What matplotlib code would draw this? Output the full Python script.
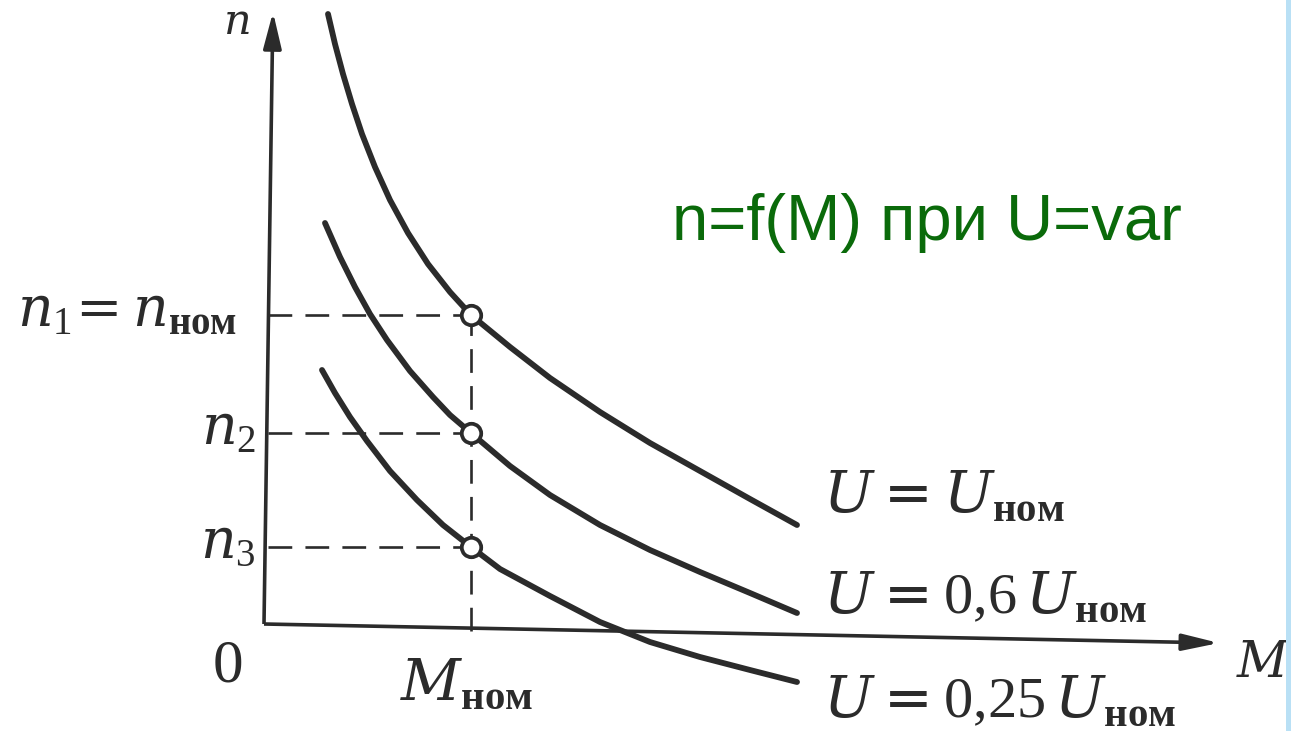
import matplotlib.pyplot as plt
from matplotlib.patches import Rectangle

# fonts: serif italic like the textbook figure
plt.rcParams['mathtext.fontset'] = 'custom'
plt.rcParams['mathtext.rm'] = 'DejaVu Serif'
plt.rcParams['mathtext.it'] = 'DejaVu Serif:italic'
plt.rcParams['mathtext.bf'] = 'Liberation Serif:bold'
plt.rcParams['mathtext.sf'] = 'Liberation Serif'   # used for the digits

# speed curves n=f(M) (arbitrary units)
m_u100 = [0.64, 0.71, 0.79, 0.88, 0.98, 1.11, 1.26, 1.44, 1.64, 1.86, 2.07, 2.46, 2.86, 3.36, 3.86, 4.36, 4.86, 5.33]
n_u100 = [6.10, 5.80, 5.50, 5.20, 4.90, 4.57, 4.24, 3.91, 3.60, 3.32, 3.09, 2.77, 2.46, 2.12, 1.81, 1.53, 1.25, 0.99]

m_u60 = [0.61, 0.76, 0.91, 1.06, 1.23, 1.46, 1.69, 1.86, 2.07, 2.46, 2.86, 3.36, 3.86, 4.36, 4.86, 5.33]
n_u60 = [4.01, 3.67, 3.37, 3.10, 2.84, 2.53, 2.27, 2.09, 1.91, 1.58, 1.29, 0.99, 0.74, 0.52, 0.31, 0.11]

m_u25 = [0.58, 0.71, 0.86, 1.03, 1.26, 1.53, 1.79, 2.07, 2.36, 2.86, 3.36, 3.86, 4.36, 4.86, 5.33]
n_u25 = [2.54, 2.31, 2.07, 1.83, 1.53, 1.24, 0.99, 0.77, 0.55, 0.28, 0.02, -0.18, -0.33, -0.46, -0.58]

# rated torque and the speeds at it
m_nom = 2.07
n_at_nom = [3.09, 1.91, 0.77]
n_tick_labels = [r'$n_{\mathsf{1}}\!=n_{\mathbf{ном}}$', r'$n_{\mathsf{2}}$', r'$n_{\mathsf{3}}$']

curve_labels = [r'$U = U_{\mathbf{ном}}$',
                r'$U = \mathsf{0{,}6}\,U_{\mathbf{ном}}$',
                r'$U = \mathsf{0{,}25}\,U_{\mathbf{ном}}$']
curve_label_n = [1.12, 0.11, -0.93]

ink = '#2b2b2b'

fig = plt.figure(figsize=(12.91, 7.31), dpi=100)
ax = fig.add_axes([0, 0, 1, 1])
ax.set_xlim(-2.64, 10.27)
ax.set_ylim(-1.07, 6.24)
ax.axis('off')

# axes drawn as arrows (scan is slightly tilted)
ax.plot([0, 9.3], [0, -0.185], color=ink, lw=2.6, solid_capstyle='butt')
ax.annotate('', xy=(9.55, -0.19), xytext=(9.2, -0.183),
            arrowprops=dict(arrowstyle='-|>,head_length=2.2,head_width=0.5',
                            color=ink, lw=2.6, shrinkA=0, shrinkB=0))
ax.plot([0, 0.085], [0, 5.85], color=ink, lw=2.6, solid_capstyle='butt')
ax.annotate('', xy=(0.09, 6.12), xytext=(0.085, 5.80),
            arrowprops=dict(arrowstyle='-|>,head_length=2.2,head_width=0.55',
                            color=ink, lw=2.6, shrinkA=0, shrinkB=0))

# dashed guides
for nv in n_at_nom:
    ax.plot([0.04, m_nom], [nv, nv], color=ink, lw=1.9, ls=(0, (9, 5)))
ax.plot([m_nom, m_nom], [-0.07, n_at_nom[0]], color=ink, lw=1.9, ls=(0, (9, 5)))

# curves
for m, n in [(m_u100, n_u100), (m_u60, n_u60), (m_u25, n_u25)]:
    ax.plot(m, n, color=ink, lw=4.2, solid_capstyle='round', solid_joinstyle='round')

ax.plot([m_nom] * 3, n_at_nom, 'o', ms=14, mfc='white', mec=ink, mew=2.7, zorder=5)

# labels
for lab, nv in zip(n_tick_labels, n_at_nom):
    ax.text(-0.08 if nv < 3 else -0.27, nv - 0.11, lab, fontsize=40, color=ink,
            ha='right', va='baseline')
ax.text(-0.28, 5.9, r'$n$', fontsize=31, color=ink, ha='center', va='baseline')
ax.text(-0.37, -0.41, r'$\mathsf{0}$', fontsize=44, color=ink, ha='center', va='center')
ax.text(1.36, -0.76, r'$M_{\mathbf{ном}}$', fontsize=42, color=ink, ha='left', va='baseline')
ax.text(9.72, -0.53, r'$M$', fontsize=36, color=ink, ha='left', va='baseline')
for lab, nv in zip(curve_labels, curve_label_n):
    ax.text(5.59, nv, lab, fontsize=42, color=ink, ha='left', va='baseline')

ax.text(4.08, 3.84, 'n=f(M) при U=var', fontsize=47, color='#0a6a0a',
        family='Liberation Sans', ha='left', va='baseline')

# light blue strip at the right edge of the slide
fig.add_artist(Rectangle((0.9961, 0), 0.0039, 1, transform=fig.transFigure,
                         color='#b9e0f5', lw=0))

fig.savefig('out.png', dpi=100)
